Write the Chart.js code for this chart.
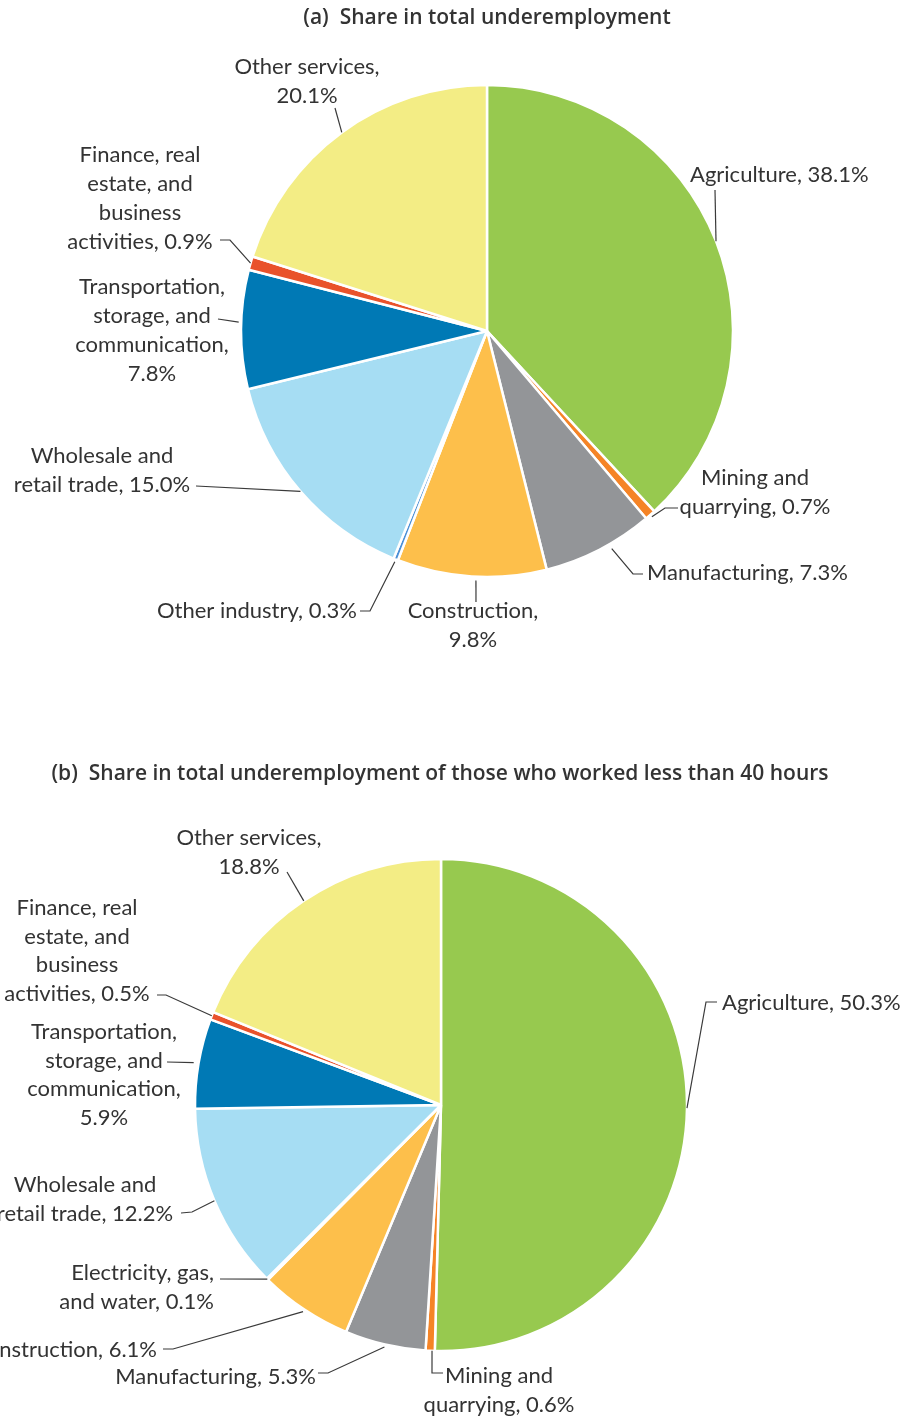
<!DOCTYPE html>
<html>
<head>
<meta charset="utf-8">
<title>Share in total underemployment</title>
<script src="https://cdn.jsdelivr.net/npm/chart.js@4.4.0/dist/chart.umd.min.js"></script>
<style>
    html, body { margin: 0; padding: 0; background: #fff; }
    #wrap { position: relative; width: 911px; height: 1421px; overflow: hidden; }
    canvas { position: absolute; left: 0; top: 0; }
</style>
</head>
<body>
<div id="wrap">
    <canvas id="pieA" width="911" height="1421"></canvas>
    <canvas id="pieB" width="911" height="1421"></canvas>
</div>
<script>
// '|' marks where the label text wraps
const titleA = '(a)  Share in total underemployment';
const categoriesA = [
    'Agriculture',
    'Mining and|quarrying',
    'Manufacturing',
    'Construction',
    'Other industry',
    'Wholesale and|retail trade',
    'Transportation,|storage, and|communication',
    'Finance, real|estate, and|business|activities',
    'Other services'
];
const valuesA = [38.1, 0.7, 7.3, 9.8, 0.3, 15.0, 7.8, 0.9, 20.1];

const titleB = '(b)  Share in total underemployment of those who worked less than 40 hours';
const categoriesB = [
    'Agriculture',
    'Mining and|quarrying',
    'Manufacturing',
    'Construction',
    'Electricity, gas,|and water',
    'Wholesale and|retail trade',
    'Transportation,|storage, and|communication',
    'Finance, real|estate, and|business|activities',
    'Other services'
];
const valuesB = [50.3, 0.6, 5.3, 6.1, 0.1, 12.2, 5.9, 0.5, 18.8];

const sliceColors = [
    '#97c94f', // agriculture
    '#f58426', // mining
    '#939598', // manufacturing
    '#fdbf4b', // construction
    '#4a8fd6', // other industry / utilities
    '#a6ddf3', // wholesale
    '#0079b5', // transportation
    '#e9522b', // finance
    '#f3ed85'  // other services
];

const FONT = 'Lato, "Noto Sans", sans-serif';
const TITLE_FONT = '600 21px "Open Sans", Lato, sans-serif';
const TEXT = '#333333';

// label placement: where the leader leaves the slice (fraction of slice, radius factor),
// the bend points of the leader, and where the text block sits
const layoutA = {
    title: { x: 487, y: 18 },
    lineHeight: 29,
    labels: [
        { at: 0.5, rf: 1.0, path: [[715, 190]], x: 690, y: 175, align: 'left', sep: ', ' },
        { at: 0.5, rf: 1.01, path: [[665, 508], [678, 508]], x: 755, y: 478, align: 'center', sep: ', ' },
        { at: 0.4, rf: 1.02, path: [[633, 574], [643, 574]], x: 647, y: 573, align: 'left', sep: ', ' },
        { at: 0.47, rf: 1.015, path: [[476, 602]], x: 473, y: 611, align: 'center', sep: ',|' },
        { at: 0.5, rf: 1.01, path: [[370, 611], [360, 611]], x: 357, y: 611, align: 'right', sep: ', ' },
        { at: 0.5, rf: 1.0, path: [[196, 486]], x: 102, y: 456, align: 'center', sep: ', ' },
        { at: 0.56, rf: 1.01, path: [[218, 319]], x: 152, y: 287, align: 'center', sep: ',|' },
        { at: 0.5, rf: 1.0, path: [[230, 240], [220, 240]], x: 140, y: 155, align: 'center', sep: ', ' },
        { at: 0.5, rf: 1.0, path: [[335, 108]], x: 307, y: 67, align: 'center', sep: ',|' }
    ]
};

const layoutB = {
    title: { x: 440, y: 774 },
    lineHeight: 28.7,
    labels: [
        { at: 0.5, rf: 1.0, path: [[706, 1002], [717, 1002]], x: 722, y: 1003, align: 'left', sep: ', ' },
        { at: 0.3, rf: 1.0, path: [[432, 1373], [443, 1373]], x: 499, y: 1376, align: 'center', sep: ', ' },
        { at: 0.5, rf: 1.01, path: [[328, 1373], [318, 1373]], x: 316, y: 1377, align: 'right', sep: ', ' },
        { at: 0.5, rf: 1.01, path: [[173, 1349], [163, 1349]], x: 157, y: 1350, align: 'right', sep: ', ' },
        { at: 0.5, rf: 1.0, path: [[220, 1279]], x: 214, y: 1273, align: 'right', sep: ', ' },
        { at: 0.5, rf: 1.0, path: [[192, 1212], [181, 1213]], x: 85, y: 1185, align: 'center', sep: ', ' },
        { at: 0.5, rf: 1.02, path: [[167, 1062]], x: 104, y: 1032, align: 'center', sep: ',|' },
        { at: 0.5, rf: 1.0, path: [[166, 995], [157, 995]], x: 77, y: 908, align: 'center', sep: ', ' },
        { at: 0.5, rf: 1.0, path: [[287, 872]], x: 249, y: 838, align: 'center', sep: ',|' }
    ]
};

const leaderLabels = {
    id: 'leaderLabels',
    afterDatasetsDraw(chart, args, opts) {
        const ctx = chart.ctx;
        const layout = opts.layout;
        const cats = chart.data.labels;
        const vals = chart.data.datasets[0].data;
        const arcs = chart.getDatasetMeta(0).data;

        ctx.save();
        ctx.font = TITLE_FONT;
        ctx.fillStyle = TEXT;
        ctx.textAlign = 'center';
        ctx.textBaseline = 'middle';
        ctx.fillText(opts.title, layout.title.x, layout.title.y);

        ctx.font = '22px ' + FONT;
        ctx.strokeStyle = '#3a3a3a';
        ctx.lineWidth = 1.2;

        arcs.forEach((arc, i) => {
            const lab = layout.labels[i];
            const p = arc.getProps(['x', 'y', 'startAngle', 'endAngle', 'outerRadius'], true);
            const a = p.startAngle + (p.endAngle - p.startAngle) * lab.at;
            const r = p.outerRadius * lab.rf;

            ctx.beginPath();
            ctx.moveTo(p.x + Math.cos(a) * r, p.y + Math.sin(a) * r);
            lab.path.forEach(pt => ctx.lineTo(pt[0], pt[1]));
            ctx.stroke();

            const text = cats[i] + lab.sep + vals[i].toFixed(1) + '%';
            ctx.textAlign = lab.align;
            text.split('|').forEach((line, k) => {
                ctx.fillText(line, lab.x, lab.y + k * layout.lineHeight);
            });
        });
        ctx.restore();
    }
};

function makePie(id, title, categories, values, layout, padding) {
    return new Chart(document.getElementById(id), {
        type: 'pie',
        data: {
            labels: categories,
            datasets: [{
                data: values,
                backgroundColor: sliceColors,
                borderColor: '#ffffff',
                borderWidth: 2.5,
                radius: 246
            }]
        },
        options: {
            responsive: false,
            animation: false,
            devicePixelRatio: 1,
            layout: { padding: padding },
            plugins: {
                legend: { display: false },
                tooltip: { enabled: false },
                leaderLabels: { title: title, layout: layout }
            }
        },
        plugins: [leaderLabels]
    });
}

makePie('pieA', titleA, categoriesA, valuesA, layoutA,
    { left: 241, top: 85, right: 178, bottom: 844 });
makePie('pieB', titleB, categoriesB, valuesB, layoutB,
    { left: 195, top: 859, right: 224, bottom: 70 });
</script>
</body>
</html>
